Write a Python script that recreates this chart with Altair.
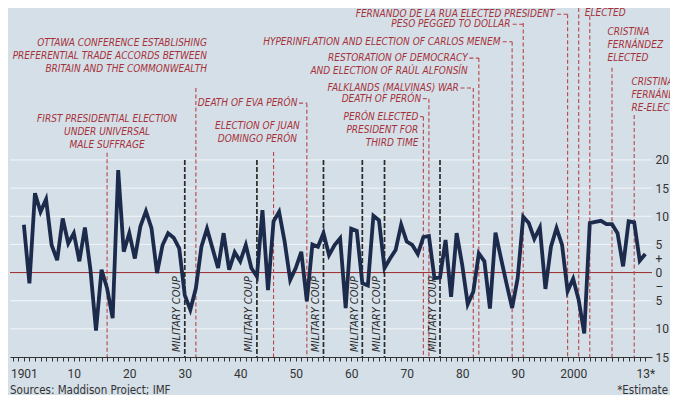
import altair as alt
import pandas as pd

# ---------------- data ----------------
years = list(range(1901, 2014))
growth = [
    8.5, -1.9, 14.1, 10.8, 13.0, 4.9, 2.2, 9.6, 5.2, 7.0,      # 1901-1910
    2.0, 8.0, 0.5, -10.3, 0.5, -2.8, -8.1, 18.2, 3.7, 7.0,     # 1911-1920
    2.5, 8.2, 10.9, 7.9, -0.1, 4.9, 7.0, 6.2, 4.3, -4.0,       # 1921-1930
    -6.6, -2.8, 4.6, 7.8, 4.3, 0.8, 7.0, 0.5, 3.6, 2.0,        # 1931-1940
    4.9, 0.8, -0.7, 11.1, -3.1, 9.1, 10.8, 5.5, -1.3, 0.8,     # 1941-1950
    3.7, -5.1, 5.0, 4.6, 7.0, 3.1, 4.9, 6.1, -6.3, 7.8,        # 1951-1960
    7.4, -1.9, -2.3, 10.1, 9.3, 0.8, 2.5, 4.0, 8.5, 5.5,       # 1961-1970
    4.9, 3.3, 6.3, 6.5, -1.0, -0.9, 5.8, -4.3, 7.0, 1.4,       # 1971-1980
    -5.6, -3.4, 3.4, 2.0, -6.4, 7.1, 2.5, -2.0, -6.3, -1.0,    # 1981-1990
    9.9, 8.8, 6.0, 8.0, -2.9, 4.6, 7.9, 4.9, -3.3, -1.1,       # 1991-2000
    -4.9, -10.8, 8.8, 9.0, 9.2, 8.6, 8.6, 7.0, 1.1, 9.1,       # 2001-2010
    8.9, 2.1, 3.3,                                             # 2011-2013
]
assert len(years) == len(growth)

event_years = [1916, 1932, 1946, 1952, 1973, 1974, 1982, 1983, 1989, 1991,
               1999, 2001, 2003, 2007, 2011]
coup_years = [1930, 1943, 1955, 1962, 1966, 1976]
coup_label = "MILITARY COUP"

annotation_texts = [
    "OTTAWA CONFERENCE ESTABLISHING\nPREFERENTIAL TRADE ACCORDS BETWEEN\nBRITAIN AND THE COMMONWEALTH",
    "FIRST PRESIDENTIAL ELECTION\nUNDER UNIVERSAL\nMALE SUFFRAGE",
    "DEATH OF EVA PERÓN",
    "ELECTION OF JUAN\nDOMINGO PERÓN",
    "FERNANDO DE LA RUA ELECTED PRESIDENT",
    "PESO PEGGED TO DOLLAR",
    "HYPERINFLATION AND ELECTION OF CARLOS MENEM",
    "RESTORATION OF DEMOCRACY\nAND ELECTION OF RAÚL ALFONSÍN",
    "FALKLANDS (MALVINAS) WAR",
    "DEATH OF PERÓN",
    "PERÓN ELECTED\nPRESIDENT FOR\nTHIRD TIME",
    "NÉSTOR KIRCHNER\nELECTED",
    "CRISTINA\nFERNÁNDEZ\nELECTED",
    "CRISTINA\nFERNÁNDEZ\nRE-ELECTED",
]

x_tick_labels = {1901: "1901", 1910: "10", 1920: "20", 1930: "30", 1940: "40",
                 1950: "50", 1960: "60", 1970: "70", 1980: "80", 1990: "90",
                 2000: "2000", 2013: "13*"}
y_tick_values = [20, 15, 10, 5, 2.5, 0, -2.5, -5, -10, -15]
grid_values = [20, 15, 10, 5, -5, -10]
source_text = "Sources: Maddison Project; IMF"
note_text = "*Estimate"

# ---------------- layout (annotation placement, in axis units) ----------------
event_line_top = [21.3, 32.8, 21.4, 30.1, 27.7, 30.9, 32.8, 38.1, 41.0, 44.35,
                  45.9, 47.0, 45.6, 36.4, 28.0]
coup_line_top = 20.0
ann_x = [1934.0, 1916.0, 1950.3, 1943.1, 1996.7, 1988.7, 1986.9, 1981.0,
         1979.4, 1972.6, 1972.1, 2002.1, 2006.2, 2010.5]
# y of the first line of each annotation
ann_y = [40.7, 27.3, 30.1, 26.1, 45.9, 44.1, 41.0, 38.1,
         32.8, 30.9, 27.7, 48.4, 42.8, 33.9]
ann_align = ["right", "center", "right", "center", "right", "right", "right", "right",
             "right", "right", "right", "left", "left", "left"]
conn_x1 = [1950.6, 1997.1, 1989.1, 1987.3, 1981.3, 1979.7, 1972.9, 1972.4]
conn_x2 = [1952, 1999, 1991, 1989, 1983, 1982, 1974, 1973]
conn_y = [30.1, 45.9, 44.1, 41.0, 38.1, 32.8, 30.9, 27.7]

# ---------------- tables ----------------
df = pd.DataFrame({"year": years, "growth": growth})
ev = pd.DataFrame({"year": event_years, "top": event_line_top, "bottom": -15})
cp = pd.DataFrame({"year": coup_years, "top": coup_line_top, "bottom": -15,
                   "lx": [y - 1.35 for y in coup_years], "ly": -14.1,
                   "label": coup_label})
ann = pd.DataFrame({"text": annotation_texts, "x": ann_x, "y": ann_y, "align": ann_align})
conn = pd.DataFrame({"x1": conn_x1, "x2": conn_x2, "y": conn_y})
grid = pd.DataFrame({"v": grid_values})
zero = pd.DataFrame({"v": [0]})

XD = [1898.5, 2014.21]
YD = [-15, 47]
xs = alt.Scale(domain=XD, nice=False, zero=False)
ys = alt.Scale(domain=YD, nice=False, zero=False)

RED = "#b5474a"
TXTRED = "#a5323a"
NAVY = "#1c2a4c"
FONT_ANN = "Liberation Sans Narrow, DejaVu Sans Condensed, Roboto, sans-serif"
FONT_AX = "Roboto, Liberation Sans, sans-serif"

label_expr = " : ".join(
    [f"datum.value == {k} ? '{v}'" for k, v in x_tick_labels.items()]) + " : ''"
y_label_expr = ("datum.value == 2.5 ? '+' : datum.value == -2.5 ? '–' : "
                "format(abs(datum.value), 'd')")

xaxis = alt.Axis(values=list(range(1899, 2014)), labelExpr=label_expr, title="",
                 grid=False, domainColor="#333333", domainWidth=1,
                 tickColor="#333333", tickSize=4, tickWidth=1,
                 labelFontSize=12, labelColor="#333333", labelFont=FONT_AX,
                 labelPadding=7, labelOverlap=False, labelFlush=False,
                 labelBound=False)
yaxis = alt.Axis(orient="right", values=y_tick_values, labelExpr=y_label_expr, title="",
                 grid=False, domain=False, ticks=False, labelAlign="left",
                 labelBaseline="middle", labelPadding=3, labelFontSize=12,
                 labelColor="#333333", labelFont=FONT_AX,
                 labelOverlap=False, labelFlush=False, labelBound=False)


def X(field):
    return alt.X(field, scale=xs, axis=xaxis, title="")


def Y(field):
    return alt.Y(field, scale=ys, axis=yaxis, title="")


gridlines = alt.Chart(grid).mark_rule(color="#f2f6f9", strokeWidth=1).encode(y=Y("v:Q"))
zeroline = alt.Chart(zero).mark_rule(color="#9c2a2c", strokeWidth=1).encode(y=Y("v:Q"))

event_rules = alt.Chart(ev).mark_rule(color=RED, strokeWidth=1.1, strokeDash=[4, 2.5]).encode(
    x=X("year:Q"), y=Y("top:Q"), y2="bottom:Q")
coup_rules = alt.Chart(cp).mark_rule(color="#2a2a2a", strokeWidth=1.7, strokeDash=[5, 2]).encode(
    x=X("year:Q"), y=Y("top:Q"), y2="bottom:Q")
connectors = alt.Chart(conn).mark_rule(color=RED, strokeWidth=1.1, strokeDash=[4, 2.5]).encode(
    x=X("x1:Q"), x2="x2:Q", y=Y("y:Q"))

line = alt.Chart(df).mark_line(color=NAVY, strokeWidth=3.8).encode(
    x=X("year:Q"), y=Y("growth:Q"))


def ann_layer(align):
    return alt.Chart(ann).transform_filter(
        alt.datum.align == align
    ).mark_text(align=align, baseline="middle", font=FONT_ANN, fontSize=10,
                fontStyle="italic", color=TXTRED, lineBreak="\n", lineHeight=13).encode(
        x=X("x:Q"), y=Y("y:Q"), text="text:N")


coup_text = alt.Chart(cp).mark_text(angle=270, align="left", baseline="middle",
                                    font=FONT_ANN, fontSize=11, fontStyle="italic",
                                    color="#2a2a2a").encode(
    x=X("lx:Q"), y=Y("ly:Q"), text="label:N")

foot = pd.DataFrame({"t": [source_text]})
source = alt.Chart(foot).mark_text(align="left", baseline="alphabetic", font=FONT_ANN,
                                   fontSize=11.5, color="#333333").encode(
    x=alt.value(0), y=alt.value(385.5), text="t:N")
foot2 = pd.DataFrame({"t": [note_text]})
note = alt.Chart(foot2).mark_text(align="right", baseline="alphabetic", font=FONT_ANN,
                                  fontSize=11.5, color="#333333").encode(
    x=alt.value(658), y=alt.value(385.5), text="t:N")

chart = alt.layer(
    gridlines, zeroline, event_rules, coup_rules, connectors, line,
    ann_layer("right"), ann_layer("center"), ann_layer("left"), coup_text, source, note
).properties(
    width=642, height=349,
    padding={"left": 2, "top": 0, "right": 18, "bottom": 38},
    autosize=alt.AutoSizeParams(type="none"),
    background="#d5dfe7",
).configure_view(strokeWidth=0)

chart.save("out.html", embed_options={"renderer": "svg", "actions": False})
